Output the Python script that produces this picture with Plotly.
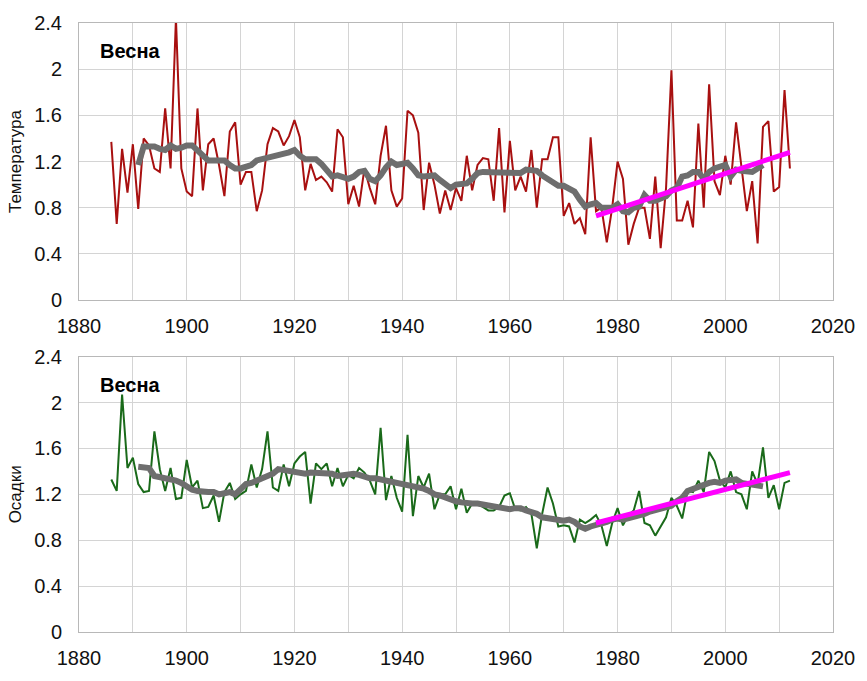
import plotly.graph_objects as go

# ---------------- data ----------------
years = list(range(1886, 2013))
smooth_years = list(range(1891, 2008))
trend_years = [1976, 2012]

# Spring temperature index, 1886-2012
temperature = [
    1.37, 0.66, 1.31, 0.93,                                      # 1886-1889
    1.35, 0.79, 1.40, 1.34, 1.14, 1.11, 1.66, 1.14, 2.44, 1.14,  # 1890s
    0.94, 0.90, 1.66, 0.95, 1.35, 1.40, 1.17, 0.90, 1.46, 1.54,  # 1900s
    1.00, 1.11, 1.11, 0.77, 0.95, 1.35, 1.49, 1.46, 1.34, 1.42,  # 1910s
    1.56, 1.41, 0.95, 1.18, 1.04, 1.07, 1.02, 0.94, 1.48, 1.41,  # 1920s
    0.83, 0.99, 0.81, 1.14, 0.97, 0.83, 1.25, 1.51, 0.95, 0.81,  # 1930s
    0.88, 1.64, 1.60, 1.45, 0.78, 1.19, 1.00, 0.75, 0.95, 0.78,  # 1940s
    0.97, 0.86, 1.25, 0.95, 1.17, 1.23, 1.22, 0.86, 1.49, 0.76,  # 1950s
    1.38, 0.95, 1.07, 0.94, 1.30, 0.80, 1.22, 1.22, 1.41, 1.41,  # 1960s
    0.73, 0.84, 0.66, 0.71, 0.57, 1.41, 0.77, 0.80, 0.50, 0.80,  # 1970s
    1.20, 1.05, 0.48, 0.66, 0.80, 0.80, 0.53, 1.07, 0.45, 0.97,  # 1980s
    1.99, 0.69, 0.69, 0.86, 0.63, 1.53, 0.80, 1.87, 1.03, 0.91,  # 1990s
    1.25, 1.00, 1.54, 1.17, 0.77, 1.03, 0.49, 1.50, 1.55, 0.94,  # 2000s
    0.98, 1.82, 1.14,                                            # 2010-2012
]

# Smoothed temperature, 1891-2007
temperature_smooth = [
    1.17, 1.33, 1.33, 1.33, 1.31, 1.30, 1.34, 1.31, 1.32,        # 1891-1899
    1.34, 1.34, 1.30, 1.25, 1.21, 1.21, 1.21, 1.21, 1.17, 1.14,  # 1900s
    1.14, 1.15, 1.17, 1.21, 1.22, 1.23, 1.25, 1.25, 1.26, 1.28,  # 1910s
    1.30, 1.25, 1.22, 1.22, 1.22, 1.18, 1.12, 1.07, 1.08, 1.07,  # 1920s
    1.05, 1.07, 1.11, 1.12, 1.05, 1.03, 1.08, 1.15, 1.20, 1.17,  # 1930s
    1.18, 1.19, 1.14, 1.08, 1.07, 1.08, 1.08, 1.04, 1.00, 0.97,  # 1940s
    1.00, 1.01, 1.01, 1.05, 1.10, 1.11, 1.11, 1.11, 1.11, 1.11,  # 1950s
    1.10, 1.10, 1.10, 1.13, 1.13, 1.12, 1.08, 1.05, 1.03, 0.99,  # 1960s
    0.99, 0.97, 0.94, 0.87, 0.81, 0.83, 0.84, 0.80, 0.80, 0.80,  # 1970s
    0.83, 0.77, 0.76, 0.80, 0.81, 0.91, 0.86, 0.86, 0.88, 0.90,  # 1980s
    0.95, 0.97, 1.07, 1.08, 1.11, 1.11, 1.05, 1.11, 1.14, 1.15,  # 1990s
    1.17, 1.07, 1.13, 1.12, 1.11, 1.11, 1.14, 1.17,              # 2000-2007
]
temperature_trend = [0.73, 1.28]

# Spring precipitation index, 1886-2012
precipitation = [
    1.33, 1.23, 2.07, 1.43,                                      # 1886-1889
    1.52, 1.29, 1.22, 1.23, 1.75, 1.42, 1.23, 1.43, 1.16, 1.17,  # 1890s
    1.50, 1.26, 1.32, 1.08, 1.09, 1.19, 0.96, 1.22, 1.30, 1.16,  # 1900s
    1.20, 1.23, 1.46, 1.26, 1.42, 1.75, 1.26, 1.23, 1.46, 1.27,  # 1910s
    1.47, 1.53, 1.57, 1.12, 1.47, 1.42, 1.47, 1.27, 1.43, 1.27,  # 1920s
    1.37, 1.34, 1.43, 1.39, 1.32, 1.20, 1.78, 1.15, 1.36, 1.17,  # 1930s
    1.05, 1.72, 1.01, 1.36, 1.26, 1.38, 1.07, 1.20, 1.20, 1.27,  # 1940s
    1.07, 1.25, 1.04, 1.12, 1.12, 1.09, 1.06, 1.06, 1.09, 1.19,  # 1950s
    1.21, 1.07, 1.06, 1.09, 1.03, 0.73, 1.03, 1.26, 1.12, 0.92,  # 1960s
    0.93, 0.92, 0.78, 0.98, 0.95, 0.98, 1.02, 0.93, 0.75, 0.95,  # 1970s
    1.08, 0.93, 1.02, 1.06, 1.23, 0.95, 0.93, 0.84, 0.92, 1.00,  # 1980s
    1.17, 1.10, 0.99, 1.23, 1.22, 1.32, 1.22, 1.57, 1.49, 1.32,  # 1990s
    1.26, 1.40, 1.22, 1.20, 1.07, 1.40, 1.29, 1.61, 1.17, 1.28,  # 2000s
    1.07, 1.30, 1.32,                                            # 2010-2012
]

# Smoothed precipitation, 1891-2007
precipitation_smooth = [
    1.44, 1.44, 1.43, 1.36, 1.35, 1.35, 1.33, 1.32, 1.30,        # 1891-1899
    1.27, 1.24, 1.23, 1.22, 1.22, 1.22, 1.20, 1.21, 1.22, 1.20,  # 1900s
    1.25, 1.29, 1.30, 1.32, 1.34, 1.36, 1.38, 1.42, 1.41, 1.40,  # 1910s
    1.40, 1.39, 1.38, 1.39, 1.39, 1.38, 1.38, 1.38, 1.36, 1.37,  # 1920s
    1.37, 1.38, 1.37, 1.35, 1.34, 1.34, 1.33, 1.33, 1.32, 1.31,  # 1930s
    1.30, 1.29, 1.27, 1.26, 1.25, 1.23, 1.20, 1.19, 1.17, 1.15,  # 1940s
    1.14, 1.13, 1.12, 1.12, 1.12, 1.11, 1.11, 1.10, 1.09, 1.08,  # 1950s
    1.07, 1.08, 1.08, 1.06, 1.05, 1.03, 1.00, 0.99, 0.98, 0.97,  # 1960s
    0.97, 0.98, 0.96, 0.92, 0.90, 0.92, 0.93, 0.95, 0.96, 0.98,  # 1970s
    0.99, 0.98, 0.99, 1.01, 1.02, 1.03, 1.05, 1.06, 1.08, 1.09,  # 1980s
    1.10, 1.14, 1.17, 1.23, 1.25, 1.27, 1.28, 1.30, 1.31, 1.30,  # 1990s
    1.32, 1.32, 1.33, 1.30, 1.29, 1.28, 1.28, 1.27,              # 2000-2007
]
precipitation_trend = [0.95, 1.39]

x_ticks = list(range(1880, 2021, 10))
x_labels = [str(v) if v % 20 == 0 else "" for v in x_ticks]
y_ticks = [0, 0.4, 0.8, 1.2, 1.6, 2.0, 2.4]
y_labels = ["0", "0.4", "0.8", "1.2", "1.6", "2", "2.4"]

season = "Весна"
temp_title = "Температура"
precip_title = "Осадки"

# ---------------- styling ----------------
FONT = "Liberation Sans, Arial, sans-serif"
RED = "#a81010"
GREEN = "#1a6a1a"
GRAY = "#6e6e6e"
MAGENTA = "#ff00ff"
GRID = "#d4d4d4"
FRAME = "#b8b8b8"

fig = go.Figure()

panels = [
    ("x", "y", temperature, temperature_smooth, temperature_trend, RED),
    ("x2", "y2", precipitation, precipitation_smooth, precipitation_trend, GREEN),
]
for xa, ya, raw, smooth, trend, color in panels:
    fig.add_trace(go.Scatter(x=years, y=raw, mode="lines", xaxis=xa, yaxis=ya,
                             line=dict(color=color, width=2), showlegend=False))
    fig.add_trace(go.Scatter(x=smooth_years, y=smooth, mode="lines", xaxis=xa, yaxis=ya,
                             line=dict(color=GRAY, width=6), showlegend=False))
    fig.add_trace(go.Scatter(x=trend_years, y=trend, mode="lines", xaxis=xa, yaxis=ya,
                             line=dict(color=MAGENTA, width=5), showlegend=False))

xaxis_style = dict(
    range=[1880, 2020], tickmode="array", tickvals=x_ticks, ticktext=x_labels,
    showgrid=True, gridcolor=GRID, gridwidth=1, zeroline=False,
    showline=True, linecolor=FRAME, linewidth=1, mirror=True,
    ticks="", ticklabelstandoff=8,
    tickfont=dict(family=FONT, size=20, color="#111111"),
)
yaxis_style = dict(
    range=[0, 2.4], tickmode="array", tickvals=y_ticks, ticktext=y_labels,
    showgrid=True, gridcolor=GRID, gridwidth=1, zeroline=False,
    showline=True, linecolor=FRAME, linewidth=1, mirror=True,
    ticks="", ticklabelstandoff=12,
    tickfont=dict(family=FONT, size=20, color="#111111"),
)

fig.update_layout(
    width=867, height=681,
    margin=dict(l=79, r=25, t=22, b=39),
    paper_bgcolor="white", plot_bgcolor="white",
    font=dict(family=FONT, color="#111111"),
    xaxis=dict(xaxis_style, domain=[0, 1], anchor="y"),
    yaxis=dict(yaxis_style, domain=[0.545, 1], anchor="x",
               title=dict(text=temp_title, font=dict(family=FONT, size=17), standoff=8)),
    xaxis2=dict(xaxis_style, domain=[0, 1], anchor="y2"),
    yaxis2=dict(yaxis_style, domain=[0, 0.452], anchor="x2",
                title=dict(text=precip_title, font=dict(family=FONT, size=17), standoff=8)),
    annotations=[
        dict(text="<b>" + season + "</b>", x=1883.6, y=2.27, xref="x", yref="y",
             xanchor="left", yanchor="top", showarrow=False,
             font=dict(family=FONT, size=20, color="#000000")),
        dict(text="<b>" + season + "</b>", x=1883.6, y=2.27, xref="x2", yref="y2",
             xanchor="left", yanchor="top", showarrow=False,
             font=dict(family=FONT, size=20, color="#000000")),
    ],
)

fig.write_html("out.html")
